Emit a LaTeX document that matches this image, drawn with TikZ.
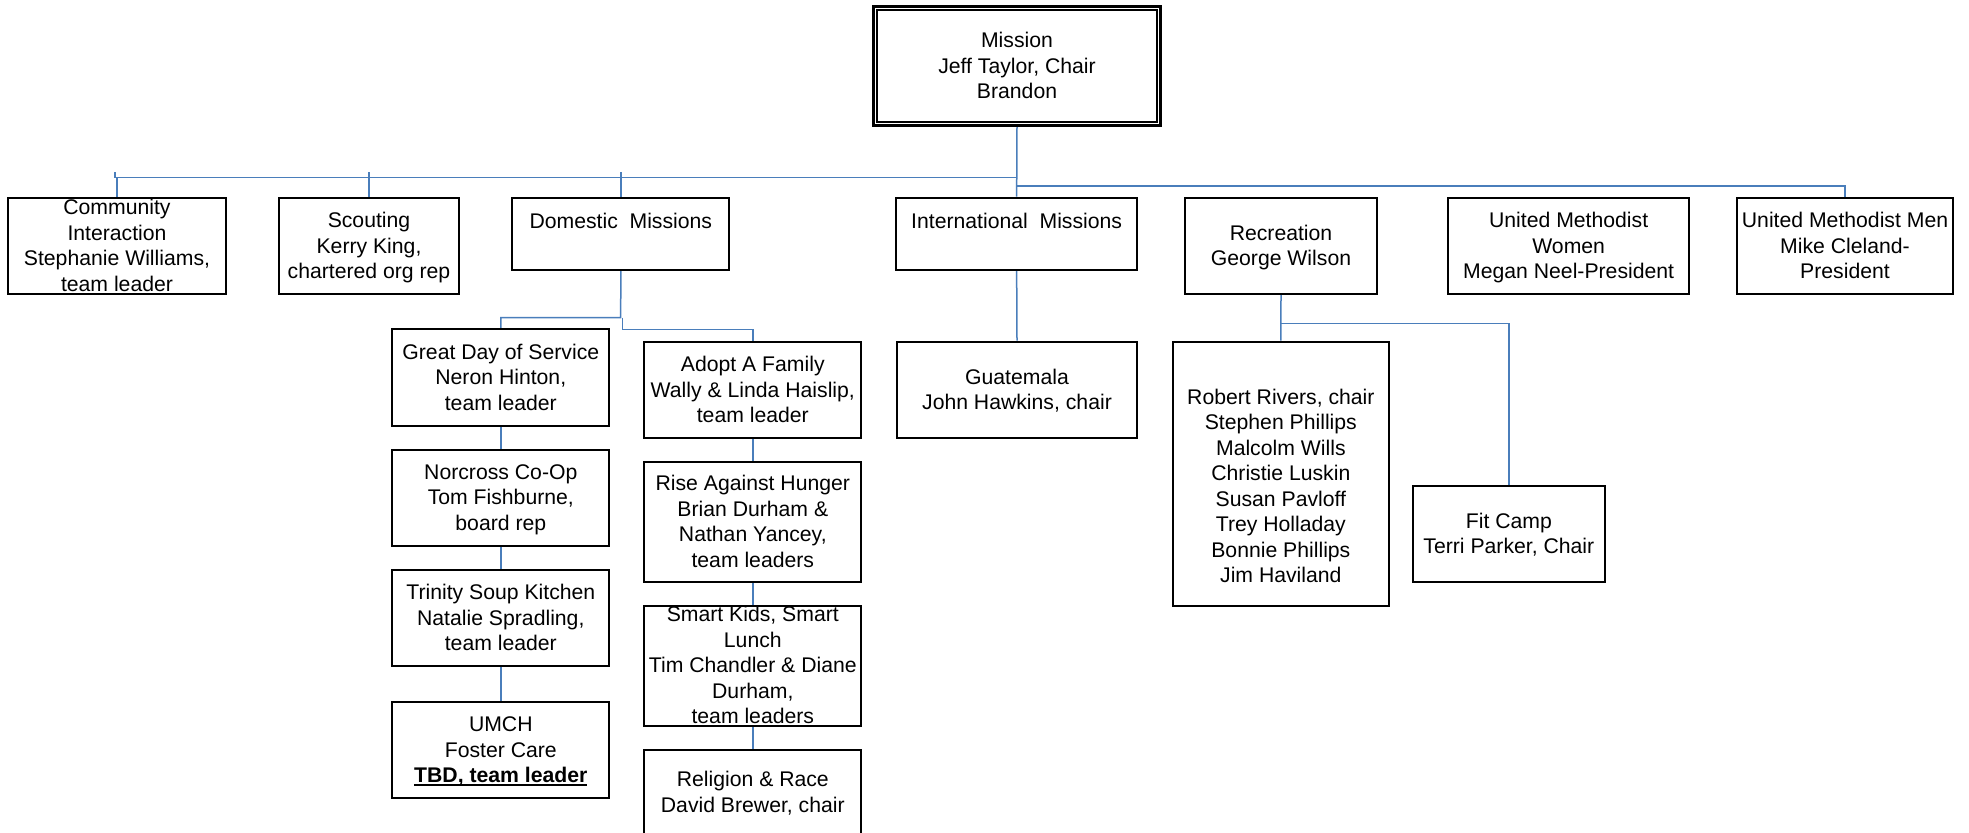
\documentclass[tikz,border=0pt]{standalone}
\usepackage{fontspec}
\setmainfont{Liberation Sans}
\usetikzlibrary{fit,backgrounds,calc}
\definecolor{connblue}{HTML}{4A7EBB}
\newcommand{\mystrut}{\rule[-2.775pt]{0pt}{12.75pt}}
\tikzset{
  boxsty/.style={draw=black, line width=1pt, inner sep=0pt, rectangle},
  txt/.style={font=\fontsize{10.6}{12.75}\selectfont, align=center, inner sep=0pt, text=black},
  conn/.style={draw=connblue, line width=0.75pt},
}
\newcommand{\ulbold}[1]{\setbox0\hbox{\textbf{#1}}\rlap{\rule[-1.4pt]{\wd0}{0.65pt}}\box0}
\newcommand{\orgbox}[6]{%
  \coordinate (#1-a) at (#2,#3);
  \coordinate (#1-b) at (#4,#5);
  \begin{scope}
    \clip (#1-a) rectangle (#1-b);
    \node[txt] (#1-t) at ($(#1-a)!0.5!(#1-b)$) {\mystrut#6\mystrut};
  \end{scope}
  \node[boxsty, fit=(#1-a)(#1-b)] (#1) {};
}
\begin{document}
\begin{tikzpicture}[x=0.5pt,y=-0.5pt]
\useasboundingbox (0,0) rectangle (1969,833);
\begin{scope}[on background layer]
  \fill[white] (0,0) rectangle (1969,833);
\end{scope}
\clip (0,0) rectangle (1969,833);

% Mission (double border)
\coordinate (M-a) at (873.5,6.5);
\coordinate (M-b) at (1160.5,125.2);
\node[txt] (Mission-t) at ($(M-a)!0.5!(M-b)$) {\mystrut Mission\\Jeff Taylor, Chair\\Brandon\mystrut};
\node[draw=black, line width=1.5pt, inner sep=0pt, outer sep=0pt, fit=(M-a)(M-b)] (Mission) {};
\draw[line width=0.85pt] ([shift={(1.75pt,-1.75pt)}]Mission.north west) rectangle ([shift={(-1.75pt,1.75pt)}]Mission.south east);

% top row
\orgbox{Community}{8.3}{197.7}{225.7}{294.3}{Community\\Interaction\\Stephanie Williams,\\team leader}
\orgbox{Scouting}{278.7}{197.7}{459.3}{294.3}{Scouting\\Kerry King,\\chartered org rep}
\orgbox{Domestic}{512.3}{197.7}{729.3}{270}{Domestic~ Missions\\\mystrut}
\orgbox{Intl}{896}{197.7}{1137.3}{270}{International~ Missions\\\mystrut}
\orgbox{Recreation}{1184.7}{197.7}{1377.3}{294}{Recreation\\George Wilson}
\orgbox{UMW}{1448.3}{197.7}{1689}{294.3}{United Methodist\\Women\\Megan Neel-President}
\orgbox{UMM}{1736.7}{197.7}{1953.3}{294.3}{United Methodist Men\\Mike Cleland-\\President}

% domestic columns
\orgbox{GreatDay}{392.3}{329.4}{609.3}{425.7}{Great Day of Service\\Neron Hinton,\\team leader}
\orgbox{Norcross}{392.3}{450}{609.3}{545.6}{Norcross Co-Op\\Tom Fishburne,\\board rep}
\orgbox{Trinity}{392.3}{570}{609.3}{666}{Trinity Soup Kitchen\\Natalie Spradling,\\team leader}
\orgbox{UMCH}{392.3}{702}{609.3}{798}{UMCH\\Foster Care\\\ulbold{TBD, team leader}}
\orgbox{Adopt}{644.3}{341.7}{861.3}{438}{Adopt A Family\\Wally \& Linda Haislip,\\team leader}
\orgbox{Rise}{644.3}{461.7}{861.3}{582}{Rise Against Hunger\\Brian Durham \&\\Nathan Yancey,\\team leaders}
\orgbox{Smart}{644.3}{605.7}{861.3}{725.7}{Smart Kids, Smart\\Lunch\\Tim Chandler \& Diane\\Durham,\\team leaders}
\orgbox{Religion}{644.3}{750}{861.3}{835}{Religion \& Race\\David Brewer, chair}

% international / recreation
\orgbox{Guat}{896.7}{341.7}{1137.3}{437.7}{Guatemala\\John Hawkins, chair}
\orgbox{Robert}{1172.7}{341.7}{1389}{605.7}{\mystrut\\Robert Rivers, chair\\Stephen Phillips\\Malcolm Wills\\Christie Luskin\\Susan Pavloff\\Trey Holladay\\Bonnie Phillips\\Jim Haviland}
\orgbox{FitCamp}{1412.7}{486}{1605}{582}{Fit Camp\\Terri Parker, Chair}

% connectors
\coordinate (j1) at (1017,177.7);
\coordinate (j2) at (1017,186);
\coordinate (d1) at (620.7,317.7);
\coordinate (d2) at (622.3,329.7);
\coordinate (r1) at (1281,323.7);
\begin{scope}[on background layer]
  \draw[conn] (Mission.south) -- (Intl.north);
  \draw[conn] (Community.north) |- (j1);
  \draw[conn] (Scouting.north) -- (Scouting.north |- j1);
  \draw[conn] (Domestic.north) -- (Domestic.north |- j1);
  \draw[conn] ([xshift=-1pt]Community.north |- j1) -- ++(0,-5.5);
  \draw[conn] (Scouting.north |- j1) -- ++(0,-5.5);
  \draw[conn] (Domestic.north |- j1) -- ++(0,-5.5);
  \draw[conn] (j2) -| (UMM.north);
  \draw[conn] (Domestic.south) -- (d1) -| (GreatDay.north);
  \draw[conn] (d2 |- d1) -- (d2) -| (Adopt.north);
  \draw[conn] (GreatDay.south) -- (Norcross.north);
  \draw[conn] (Norcross.south) -- (Trinity.north);
  \draw[conn] (Trinity.south) -- (UMCH.north);
  \draw[conn] (Adopt.south) -- (Rise.north);
  \draw[conn] (Rise.south) -- (Smart.north);
  \draw[conn] (Smart.south) -- (Religion.north);
  \draw[conn] (Intl.south) -- (Guat.north);
  \draw[conn] (Recreation.south) -- (Robert.north);
  \draw[conn] (Recreation.south |- r1) -| (FitCamp.north);
\end{scope}
\end{tikzpicture}
\end{document}
